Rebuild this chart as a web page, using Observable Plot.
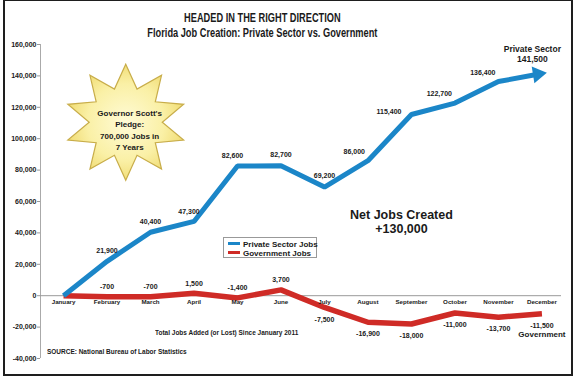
<!DOCTYPE html>
<html>
<head>
<meta charset="utf-8">
<script src="https://cdn.jsdelivr.net/npm/d3@7"></script>
<script src="https://cdn.jsdelivr.net/npm/@observablehq/plot@0.6"></script>
<style>
  html, body { margin: 0; padding: 0; background: #fff; }
  #wrap { position: relative; width: 575px; height: 377px; overflow: hidden; font-family: "Liberation Sans", Arial, sans-serif; color: #1a1a1a; }
  #wrap svg { position: absolute; left: 0; top: 0; }
  .frame { position: absolute; left: 3px; top: -1px; width: 566px; height: 373px; border: 2px solid #1e1e1e; pointer-events: none; }
  .title { position: absolute; left: 0; width: 525px; text-align: center; font-family: "Liberation Sans", Arial, sans-serif; font-weight: bold; font-size: 12px; line-height: 14px; transform-origin: 262px 50%; white-space: nowrap; }
  .note { position: absolute; font-family: "Liberation Sans", Arial, sans-serif; font-weight: bold; font-size: 8px; line-height: 10px; white-space: nowrap; transform: scaleX(0.81); transform-origin: 0 50%; }
  .legend { position: absolute; left: 223px; top: 237px; width: 92px; height: 19px; border: 1px solid #999; background: #fff; font-weight: bold; font-size: 8px; }
  .legend .row { position: absolute; left: 4px; height: 9px; line-height: 9px; white-space: nowrap; }
  .legend .sw { display: inline-block; width: 12px; height: 3px; vertical-align: middle; margin-right: 3px; position: relative; top: -1px; }
  #wrap svg text { fill: #1a1a1a; }
  #wrap svg g[aria-label="y-axis tick"] path, #wrap svg g[aria-label="y-axis"] path { stroke: #999; }
</style>
</head>
<body>
<div id="wrap">
  <div class="title" style="top:11px; transform: scaleX(0.77)">HEADED IN THE RIGHT DIRECTION</div>
  <div class="title" style="top:26px; transform: scaleX(0.77)">Florida Job Creation: Private Sector vs. Government</div>
  <div class="note" style="left:155px; top:328px">Total Jobs Added (or Lost) Since January 2011</div>
  <div class="note" style="left:47px; top:347px">SOURCE: National Bureau of Labor Statistics</div>
  <div class="legend">
    <div class="row" style="top:2px"><span class="sw" style="background:#1b86c8"></span>Private Sector Jobs</div>
    <div class="row" style="top:11px"><span class="sw" style="background:#cf2b26"></span>Government Jobs</div>
  </div>
  <div class="frame"></div>
</div>
<script>
const months = ["January","February","March","April","May","June","July","August","September","October","November","December"];
const privateJobs = [0, 21900, 40400, 47300, 82600, 82700, 69200, 86000, 115400, 122700, 136400, 141500];
const governmentJobs = [0, -700, -700, 1500, -1400, 3700, -7500, -16900, -18000, -11000, -13700, -11500];
const yTicks = [-40000, -20000, 0, 20000, 40000, 60000, 80000, 100000, 120000, 140000, 160000];

const blue = "#1b86c8", red = "#cf2b26";
const fmt = d3.formatLocale({decimal: ".", thousands: ",", grouping: [3], currency: ["$", ""], minus: "-"}).format(",");

const data = months.map((m, i) => ({i, month: m, priv: privateJobs[i], gov: governmentJobs[i]}));
const privUpLeft = ["August", "October", "November"];
const privLeft = ["September"];
const privNudge = ["April", "May"];
const privAbove = data.filter(d => d.i > 0 && d.i < 11 && !privUpLeft.includes(d.month) && !privLeft.includes(d.month) && !privNudge.includes(d.month));
const govAbove = data.filter(d => d.i > 0 && d.i < 6);
const govBelow = data.filter(d => d.i >= 6);

const xMin = -0.53, xMax = 11.45;

const star = {
  draw(ctx, size) {
    const R = Math.sqrt(size / Math.PI), r = R * 0.6;
    for (let k = 0; k < 20; k++) {
      const a = -Math.PI / 2 + k * Math.PI / 10;
      const rad = k % 2 ? r : R;
      const x = rad * Math.cos(a) * 1.05, y = rad * Math.sin(a);
      k ? ctx.lineTo(x, y) : ctx.moveTo(x, y);
    }
    ctx.closePath();
  }
};
const arrowHead = {
  draw(ctx) {
    ctx.moveTo(5, 0);
    ctx.lineTo(-9, -8.5);
    ctx.lineTo(-9, 8.5);
    ctx.closePath();
  }
};

const svg = Plot.plot({
  width: 575,
  height: 377,
  marginLeft: 40,
  marginRight: 14,
  marginTop: 44,
  marginBottom: 19,
  x: {domain: [xMin, xMax], axis: null},
  y: {domain: [-40000, 160000], ticks: yTicks, tickFormat: fmt, tickSize: 3, tickPadding: 1, label: null},
  style: {fontFamily: "Liberation Sans, Arial, sans-serif", fontSize: "7px", fontWeight: "bold", background: "transparent", color: "#1a1a1a"},
  marks: [
    Plot.ruleX([xMin], {stroke: "#aaa", strokeWidth: 1}),
    Plot.ruleY([0], {stroke: "#999", strokeWidth: 1}),
    Plot.dot([{x: 1.43, y: 110500}], {x: "x", y: "y", r: 58, symbol: star, fill: "url(#starGrad)", stroke: "#c8ad4a", strokeWidth: 1.2}),
    Plot.text(["Governor Scott's\nPledge:\n700,000 Jobs in\n7 Years"], {x: 1.52, y: 106000, fontSize: 8, fontWeight: "bold", lineHeight: 1.42}),
    Plot.line(data, {x: "i", y: "gov", stroke: red, strokeWidth: 5.5, strokeLinejoin: "miter", strokeLinecap: "butt"}),
    Plot.line(data, {x: "i", y: "priv", stroke: blue, strokeWidth: 5, strokeLinejoin: "miter", strokeLinecap: "butt"}),
    Plot.dot(data.slice(-1), {x: "i", y: "priv", symbol: arrowHead, r: 8, fill: blue, stroke: "none", rotate: -9}),
    Plot.text(data, {x: "i", y: 0, text: "month", dy: 6.5, fontSize: 6.2, fontWeight: "bold"}),
    Plot.text(privAbove, {x: "i", y: "priv", text: d => fmt(d.priv), dy: -11, fontSize: 7, fontWeight: "bold"}),
    Plot.text(data.filter(d => privNudge.includes(d.month)), {x: "i", y: "priv", text: d => fmt(d.priv), dx: -5, dy: -10, fontSize: 7, fontWeight: "bold"}),
    Plot.text(data.filter(d => privUpLeft.includes(d.month)), {x: "i", y: "priv", text: d => fmt(d.priv), dx: -3, dy: -9, textAnchor: "end", fontSize: 7, fontWeight: "bold"}),
    Plot.text(data.filter(d => privLeft.includes(d.month)), {x: "i", y: "priv", text: d => fmt(d.priv), dx: -10, dy: -3, textAnchor: "end", fontSize: 7, fontWeight: "bold"}),
    Plot.text(govAbove, {x: "i", y: "gov", text: d => fmt(d.gov), dy: -10, fontSize: 7, fontWeight: "bold"}),
    Plot.text(govBelow, {x: "i", y: "gov", text: d => fmt(d.gov), dy: 12, fontSize: 7, fontWeight: "bold"}),
    Plot.text(data.slice(-1), {x: "i", y: "gov", text: () => "Government", dy: 21, fontSize: 8, fontWeight: "bold"}),
    Plot.text(["Private Sector\n141,500"], {x: 10.78, y: 154300, fontSize: 8.5, fontWeight: "bold", lineHeight: 1.2}),
    Plot.text(["Net Jobs Created\n+130,000"], {x: 7.77, y: 47000, fontSize: 12.5, fontWeight: "bold", lineHeight: 1.12})
  ]
});

d3.select(svg).insert("defs", ":first-child").html(
  '<radialGradient id="starGrad" cx="50%" cy="50%" r="55%">' +
  '<stop offset="0%" stop-color="#fffbd6"/><stop offset="60%" stop-color="#faf0a6"/><stop offset="100%" stop-color="#efd96c"/></radialGradient>'
);

document.getElementById("wrap").insertBefore(svg, document.querySelector("#wrap .title"));
</script>
</body>
</html>
